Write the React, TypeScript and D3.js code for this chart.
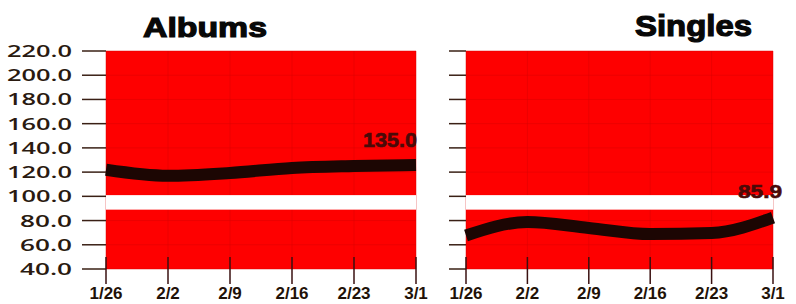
import React from "react";
import * as d3 from "d3";

const dates = ["1/26", "2/2", "2/9", "2/16", "2/23", "3/1"];
const albumsValues = [122, 117, 119.3, 123.4, 125, 125.9];
const singlesValues = [67.7, 78.8, 73.9, 68.9, 69.7, 82.5];
const albumsLabel = "135.0";
const singlesLabel = "85.9";
const yTicks = [220, 200, 180, 160, 140, 120, 100, 80, 60, 40];
const yTickLabels = ["220.0", "200.0", "180.0", "160.0", "140.0", "120.0", "100.0", "80.0", "60.0", "40.0"];
const breakRange = [89, 101];

const W = 796;
const H = 304;
const RED = "#fe0000";
const INK = "#2a1a10";
const LINE = "#1c0603";

type PanelProps = {
  title: string;
  values: number[];
  label: string;
  x0: number;
  x1: number;
  titleX: number;
  titleY: number;
  titleSize: number;
  titleLen: number;
  showYLabels: boolean;
  tickLeft: number;
  labelDx: number;
  labelDy: number;
  labelSize: number;
  labelLen: number;
};

const y = d3.scaleLinear().domain([40, 220]).range([269, 51]);

function Panel(p: PanelProps) {
  const x = d3.scalePoint<string>().domain(dates).range([p.x0, p.x1]);
  const line = d3
    .line<number>()
    .x((_, i) => x(dates[i]) as number)
    .y((v) => y(v))
    .curve(d3.curveMonotoneX);
  const top = y(220);
  const bottom = y(40);
  const lastX = x(dates[dates.length - 1]) as number;
  const lastY = y(p.values[p.values.length - 1]);
  return (
    <g>
      <text
        x={p.titleX}
        y={p.titleY}
        fontFamily="'Liberation Sans', Arial, sans-serif"
        fontWeight={900}
        fontSize={p.titleSize}
        textLength={p.titleLen}
        lengthAdjust="spacingAndGlyphs"
        fill="#080808"
        stroke="#080808"
        strokeWidth={1.2}
      >
        {p.title}
      </text>
      <rect x={p.x0} y={top} width={p.x1 - p.x0} height={bottom - top} fill={RED} />
      {yTicks.map((t) => (
        <line key={"g" + t} x1={p.x0} x2={p.x1} y1={y(t)} y2={y(t)} stroke="#d80000" strokeWidth={1} opacity={0.45} />
      ))}
      {dates.map((d) => (
        <line key={"v" + d} x1={x(d)} x2={x(d)} y1={top} y2={bottom} stroke="#d80000" strokeWidth={1} opacity={0.45} />
      ))}
      <rect
        x={p.x0}
        y={y(breakRange[1])}
        width={p.x1 - p.x0}
        height={y(breakRange[0]) - y(breakRange[1])}
        fill="#ffffff"
      />
      <path d={line(p.values) || ""} fill="none" stroke={LINE} strokeWidth={12} strokeLinecap="butt" />
      <text
        x={lastX + p.labelDx}
        y={lastY + p.labelDy}
        textAnchor="end"
        fontFamily="'Liberation Sans', Arial, sans-serif"
        fontWeight={700}
        fontSize={p.labelSize}
        textLength={p.labelLen}
        lengthAdjust="spacingAndGlyphs"
        fill="#4a0a08"
        stroke="#4a0a08"
        strokeWidth={0.6}
      >
        {p.label}
      </text>
      {yTicks.map((t, i) => (
        <g key={"yt" + t}>
          <line x1={p.tickLeft} x2={p.x0} y1={y(t)} y2={y(t)} stroke="#3a2015" strokeWidth={1.5} />
          {p.showYLabels && (
            <text
              x={72}
              y={y(t) + 6}
              textAnchor="end"
              fontFamily="'Open Sans', sans-serif"
              fontWeight={600}
              fontSize={17}
              textLength={yTickLabels[i].length * 13}
              lengthAdjust="spacingAndGlyphs"
              fill={INK}
            >
              {yTickLabels[i]}
            </text>
          )}
        </g>
      ))}
      {dates.map((d) => (
        <g key={"xt" + d}>
          <line x1={x(d)} x2={x(d)} y1={bottom - 12} y2={bottom + 15} stroke="#3a1010" strokeWidth={1.5} />
          <text
            x={x(d)}
            y={299}
            textAnchor="middle"
            fontFamily="'Liberation Sans', Arial, sans-serif"
            fontWeight={700}
            fontSize={17}
            fill="#1f1208"
          >
            {d}
          </text>
        </g>
      ))}
    </g>
  );
}

export default function App() {
  return (
    <svg
      width={W}
      height={H}
      style={{ position: "absolute", left: 0, top: 0, background: "#ffffff" }}
    >
      <Panel
        title="Albums"
        values={albumsValues}
        label={albumsLabel}
        x0={106}
        x1={416}
        titleX={143}
        titleY={37}
        titleSize={28}
        titleLen={124}
        showYLabels={true}
        tickLeft={82}
        labelDx={1}
        labelDy={-18}
        labelSize={21}
        labelLen={54}
      />
      <Panel
        title="Singles"
        values={singlesValues}
        label={singlesLabel}
        x0={466}
        x1={773}
        titleX={635}
        titleY={36}
        titleSize={30}
        titleLen={117}
        showYLabels={false}
        tickLeft={449}
        labelDx={9}
        labelDy={-20}
        labelSize={18}
        labelLen={44}
      />
    </svg>
  );
}
